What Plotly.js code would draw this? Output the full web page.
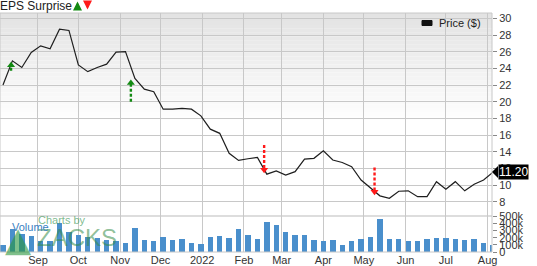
<!DOCTYPE html>
<html><head><meta charset="utf-8">
<script src="https://cdn.plot.ly/plotly-3.0.1.min.js"></script>
<style>html,body{margin:0;padding:0;background:#fff;overflow:hidden}#chart{width:537px;height:266px}</style>
</head><body><div id="chart"></div>
<script>
const dates = ['2021-08-06','2021-08-13','2021-08-20','2021-08-27','2021-09-03','2021-09-10','2021-09-17','2021-09-24',
 '2021-10-01','2021-10-08','2021-10-15','2021-10-22','2021-10-29','2021-11-05','2021-11-12','2021-11-19','2021-11-26',
 '2021-12-03','2021-12-10','2021-12-17','2021-12-24','2021-12-31','2022-01-07','2022-01-14','2022-01-21','2022-01-28',
 '2022-02-04','2022-02-11','2022-02-18','2022-02-25','2022-03-04','2022-03-11','2022-03-18','2022-03-25','2022-04-01',
 '2022-04-08','2022-04-15','2022-04-22','2022-04-29','2022-05-06','2022-05-13','2022-05-20','2022-05-27','2022-06-03',
 '2022-06-10','2022-06-17','2022-06-24','2022-07-01','2022-07-08','2022-07-15','2022-07-22','2022-07-29','2022-08-05'];
const price = [22.0,24.9,24.1,25.9,26.7,26.35,28.7,28.55,
 24.4,23.6,24.1,24.5,25.95,26.0,22.8,21.5,21.2,
 19.1,19.1,19.2,19.1,18.3,16.7,16.2,13.8,12.95,
 13.15,13.3,11.3,11.7,11.2,11.6,13.1,13.2,14.1,
 13.0,12.7,12.2,10.6,9.6,8.7,8.4,9.25,9.3,
 8.6,8.6,10.4,9.5,10.4,9.3,10.1,10.6,11.55];
const volume = [92000,327000,250000,218000,152000,150000,406000,279000,
 242000,208000,200000,162000,152000,130000,335000,162000,148000,
 204000,172000,186000,124000,115000,208000,223000,200000,321000,
 242000,186000,420000,373000,275000,232000,242000,166000,148000,
 172000,92000,148000,183000,211000,460000,186000,176000,148000,
 148000,186000,200000,190000,176000,166000,186000,124000,101000];
const monthTicks = ['2021-09-01','2021-10-01','2021-11-01','2021-12-01','2022-01-01','2022-02-01',
 '2022-03-01','2022-04-01','2022-05-01','2022-06-01','2022-07-01','2022-08-01'];
const monthLabels = ['Sep','Oct','Nov','Dec','2022','Feb','Mar','Apr','May','Jun','Jul','Aug'];
const priceTicks = [8,10,12,14,16,18,20,22,24,26,28,30];
const volTicks = [0,100000,200000,300000,400000,500000];
const volLabels = ['0','100k','200k','300k','400k','500k'];
const epsDates = ['2021-08-12','2021-11-09','2022-02-16','2022-05-09'];
const epsDir = ['up','up','down','down'];
const epsTail = [23.7, 20.0, 14.8, 12.1];
const epsTip = [24.8, 22.65, 11.4, 8.76];
const lastLabel = '11.20';

// geometry
const W = 537, H = 266, ML = 0, MR = 45, MT = 13, MB = 14;
const PH = H - MT - MB; // plot height px
const volFrac = 36 / PH;
const pRange = [6.28, 30.64];
const vRange = [0, 505000];
const FONT = 'Liberation Sans, Arial, sans-serif';
const pxX = px => (px - ML) / (W - ML - MR);
const pxY = py => (H - MB - py) / PH;
const priceToPaper = p => volFrac + (p - pRange[0]) / (pRange[1] - pRange[0]) * (1 - volFrac);
const pricePerPx = (pRange[1] - pRange[0]) / (PH * (1 - volFrac));

const traces = [];
traces.push({type:'bar', x:dates, y:volume, yaxis:'y2', xaxis:'x',
  marker:{color:'#4a8fcc', line:{width:0}}, width:4*86400000, hoverinfo:'skip', showlegend:false});
traces.push({type:'scatter', mode:'lines', x:dates, y:price, yaxis:'y', xaxis:'x',
  line:{color:'#1e1e1e', width:1.2}, name:'Price ($)', showlegend:false});
const headSize = 7;
for (let i = 0; i < epsDates.length; i++) {
  const up = epsDir[i] === 'up';
  const col = up ? '#138a13' : '#ff1a1a';
  const off = (headSize / 2) * pricePerPx;
  const headC = up ? epsTip[i] - off : epsTip[i] + off;
  traces.push({type:'scatter', mode:'lines', x:[epsDates[i], epsDates[i]], y:[epsTail[i], headC],
    yaxis:'y', xaxis:'x', line:{color:col, width:2.4, dash:'3px,2px'}, hoverinfo:'skip', showlegend:false});
  traces.push({type:'scatter', mode:'markers', x:[epsDates[i]], y:[headC], yaxis:'y', xaxis:'x',
    marker:{symbol: up ? 'triangle-up' : 'triangle-down', size:headSize, color:col, line:{width:0}},
    hoverinfo:'skip', showlegend:false});
}

const shapes = [];
// gradient background of price panel
const gTop = MT, gBot = 120, nB = 27;
for (let k = 0; k < nB; k++) {
  const y0 = gTop + (gBot - gTop) * k / nB, y1 = gTop + (gBot - gTop) * (k + 1) / nB;
  const c = Math.round(226 + (255 - 226) * (k + 0.5) / nB);
  shapes.push({type:'rect', xref:'paper', yref:'paper', x0:0, x1:1, y0:pxY(y1), y1:pxY(y0),
    fillcolor:`rgb(${c},${c},${c})`, line:{width:0}, layer:'below'});
}
shapes.push({type:'line', xref:'paper', yref:'paper', x0:0, x1:1, y0:volFrac, y1:volFrac,
  line:{color:'#dddddd', width:2}, layer:'below'});
shapes.push({type:'rect', xref:'paper', yref:'paper', x0:0, x1:1, y0:0, y1:1,
  line:{color:'#c8c8c8', width:1}, fillcolor:'rgba(0,0,0,0)', layer:'above'});
// last price pointer
const lp = price[price.length - 1];
const lpY = priceToPaper(lp);
const dY = 6 / PH;
shapes.push({type:'path', xref:'paper', yref:'paper',
  path:`M 1 ${lpY} L ${1 + 6 / 492} ${lpY + dY} L ${1 + 6 / 492} ${lpY - dY} Z`,
  fillcolor:'#000', line:{width:0}, layer:'above'});
// legend swatch
shapes.push({type:'rect', xref:'paper', yref:'paper', x0:pxX(422), x1:pxX(432), y0:pxY(25.5), y1:pxY(20.5),
  fillcolor:'#111', line:{color:'#111', width:1}, layer:'above'});

const annotations = [
  {xref:'paper', yref:'paper', x:1 + 6 / 492, y:lpY, xanchor:'left', yanchor:'middle', text:lastLabel,
   showarrow:false, bgcolor:'#000', borderpad:0, font:{family:FONT, size:12, color:'#fff'}},
  {xref:'paper', yref:'paper', x:pxX(483), y:pxY(23), xanchor:'right', yanchor:'middle',
   text:'Price ($)', showarrow:false, font:{family:FONT, size:11, color:'#222'}},
  {xref:'paper', yref:'paper', x:pxX(77.5), y:pxY(1.5), ax:0, ay:9, showarrow:true, arrowhead:2,
   arrowsize:0.9, arrowwidth:2, arrowcolor:'#138a13', text:''},
  {xref:'paper', yref:'paper', x:pxX(87.5), y:pxY(9.5), ax:0, ay:-9, showarrow:true, arrowhead:2,
   arrowsize:0.9, arrowwidth:2, arrowcolor:'#ff1a1a', text:''},
  {xref:'paper', yref:'paper', x:pxX(18), y:pxY(239), xanchor:'center', yanchor:'middle', text:'▲',
   showarrow:false, font:{family:'DejaVu Sans', size:34, color:'rgba(40,150,60,0.6)'}},
  {xref:'paper', yref:'paper', x:pxX(35), y:pxY(237), xanchor:'left', yanchor:'middle', text:'ZACKS',
   showarrow:false, font:{family:FONT, size:24, color:'rgba(50,140,70,0.55)'}},
  {xref:'paper', yref:'paper', x:pxX(36), y:pxY(220), xanchor:'left', yanchor:'middle', text:'Charts by',
   showarrow:false, font:{family:FONT, size:11, color:'rgba(70,155,90,0.7)'}},
  {xref:'paper', yref:'paper', x:pxX(10), y:pxY(227), xanchor:'left', yanchor:'middle', text:'Volume',
   showarrow:false, font:{family:FONT, size:11, color:'#3a7fc1'}}
];

const layout = {
  width:W, height:H, margin:{l:ML, r:MR, t:MT, b:MB, pad:0},
  paper_bgcolor:'#fff', plot_bgcolor:'rgba(0,0,0,0)',
  font:{family:FONT, size:11, color:'#333'},
  title:{text:'EPS Surprise', x:0, xref:'paper', xanchor:'left', y:1 - 6 / H, yref:'container', yanchor:'middle',
    font:{family:FONT, size:12, color:'#222'}},
  showlegend:false, bargap:0,
  xaxis:{type:'date', anchor:'y2', range:['2021-08-03 19:00','2022-08-04 06:00'], tickvals:monthTicks, ticktext:monthLabels,
    showgrid:true, gridcolor:'#c8c8c8', gridwidth:1, ticks:'', showline:false, zeroline:false,
    tickfont:{family:FONT, size:11, color:'#333'}, fixedrange:true},
  yaxis:{domain:[volFrac, 1], range:pRange, side:'right', tickvals:priceTicks, showgrid:true, gridcolor:'#c8c8c8',
    gridwidth:1, ticks:'outside', ticklen:4, tickcolor:'#888', zeroline:false, showline:false,
    tickfont:{family:FONT, size:11, color:'#333'}, anchor:'x'},
  yaxis2:{domain:[0, volFrac], range:vRange, side:'right', tickvals:volTicks, ticktext:volLabels, showgrid:false,
    ticks:'outside', ticklen:4, tickcolor:'#888', zeroline:false, showline:false,
    tickfont:{family:FONT, size:11, color:'#333'}, anchor:'x'},
  shapes:shapes, annotations:annotations
};
Plotly.newPlot('chart', traces, layout, {staticPlot:true, displayModeBar:false});
</script></body></html>
